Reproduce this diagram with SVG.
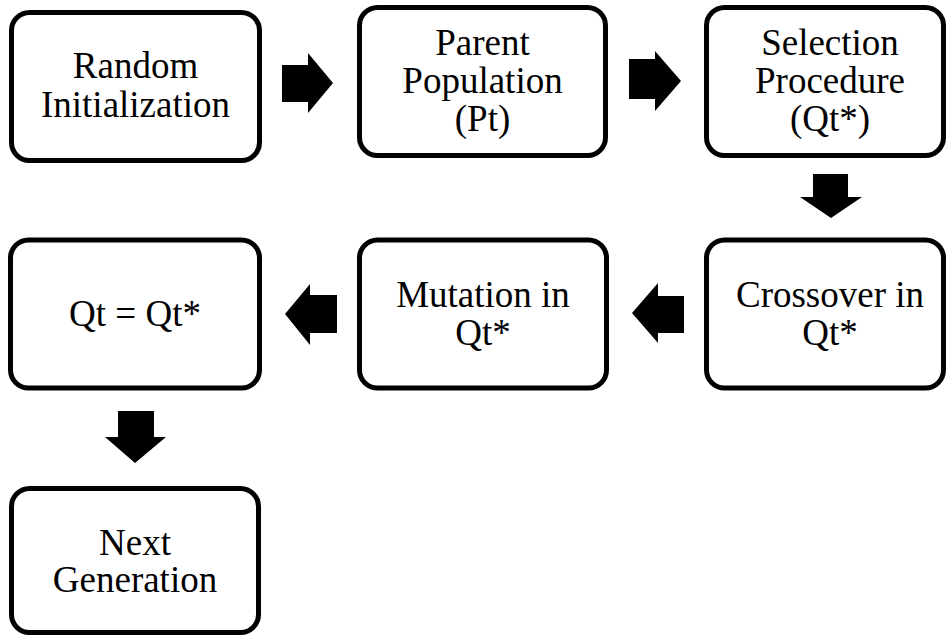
<svg xmlns="http://www.w3.org/2000/svg" width="947" height="636" viewBox="0 0 947 636">
<style>
.box{fill:#fff;stroke:#000;stroke-width:5}
.t{font-family:'Liberation Serif','Times New Roman',serif;font-size:37px;fill:#000;text-anchor:middle}
.arr{fill:#000}
</style>
<rect width="947" height="636" fill="#fff"/>
<g id="n1"><rect class="box" x="11.5" y="12.5" width="248" height="148" rx="18"/>
<text class="t" x="135.5" y="78">Random</text><text class="t" x="135.5" y="117">Initialization</text></g>
<g id="n2"><rect class="box" x="359.5" y="7.5" width="246" height="148" rx="18"/>
<text class="t" x="482.5" y="55">Parent</text><text class="t" x="482.5" y="93">Population</text><text class="t" x="482.5" y="131">(Pt)</text></g>
<g id="n3"><rect class="box" x="706.5" y="7.5" width="237" height="148" rx="18"/>
<text class="t" x="830" y="55">Selection</text><text class="t" x="830" y="93">Procedure</text><text class="t" x="830" y="131">(Qt*)</text></g>
<g id="n4"><rect class="box" x="706.5" y="240" width="237" height="148" rx="18"/>
<text class="t" x="830" y="307">Crossover in</text><text class="t" x="830" y="345">Qt*</text></g>
<g id="n5"><rect class="box" x="359.5" y="240" width="247" height="148" rx="18"/>
<text class="t" x="483" y="307">Mutation in</text><text class="t" x="483" y="345">Qt*</text></g>
<g id="n6"><rect class="box" x="10.5" y="240" width="249" height="148" rx="18"/>
<text class="t" x="135" y="326">Qt = Qt*</text></g>
<g id="n7"><rect class="box" x="11.5" y="488.5" width="247" height="144" rx="18"/>
<text class="t" x="135" y="555">Next</text><text class="t" x="135" y="592">Generation</text></g>
<g id="connectors">
<polygon class="arr" points="282,65 308,65 308,53 333,83 308,113 308,102 282,102"/>
<polygon class="arr" points="629,59 655,59 655,51 681,81 655,111 655,99 629,99"/>
<polygon class="arr" points="813,174 848,174 848,197 862,197 831,218 800,197 813,197"/>
<polygon class="arr" points="684,296 658,296 658,283 632,313 658,343 658,333 684,333"/>
<polygon class="arr" points="337,295 310,295 310,284 285,314 310,345 310,333 337,333"/>
<polygon class="arr" points="118,411 154,411 154,437 166,437 135,463 105,437 118,437"/>
</g>
</svg>
